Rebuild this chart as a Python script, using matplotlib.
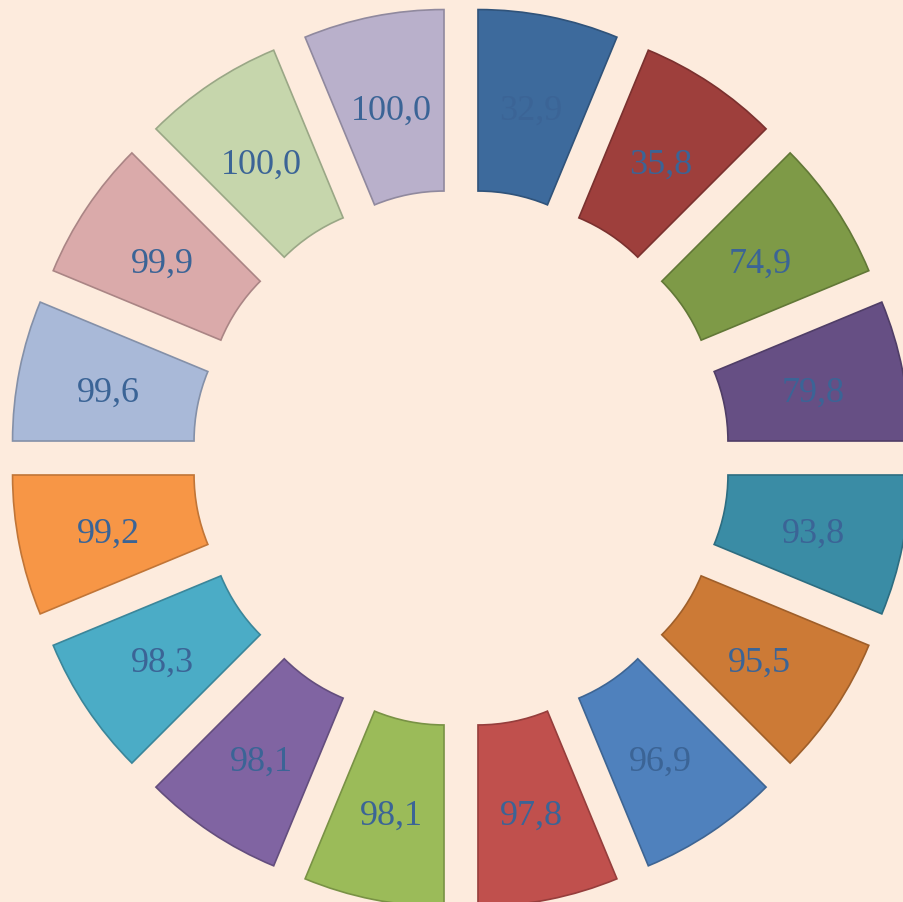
import matplotlib.pyplot as plt
import matplotlib.colors as mcolors
import numpy as np

values = [32.9, 35.8, 74.9, 79.8, 93.8, 95.5, 96.9, 97.8,
          98.1, 98.1, 98.3, 99.2, 99.6, 99.9, 100.0, 100.0]
labels = ['32,9', '35,8', '74,9', '79,8', '93,8', '95,5', '96,9', '97,8',
          '98,1', '98,1', '98,3', '99,2', '99,6', '99,9', '100,0', '100,0']
colors = ['#3D6A9C', '#9E3F3C', '#7E9A47', '#664F84', '#3A8CA5', '#CC7A36',
          '#4F81BD', '#C0504D', '#9BBB59', '#8064A2', '#4BACC6', '#F79646',
          '#A9B9D8', '#DAAAAA', '#C6D6AC', '#B9B0CB']

bg = '#FDEBDD'
edges = [tuple(c * 0.78 for c in mcolors.to_rgb(col)) for col in colors]

fig = plt.figure(figsize=(9.04, 9.02), dpi=100, facecolor=bg)
ax = fig.add_axes([0, 0, 1, 1])
ax.set_facecolor(bg)

n = len(values)
explode = [0.24] * n
wedges, _ = ax.pie([1] * n, startangle=90, counterclock=False, colors=colors,
                   explode=explode, radius=1.0,
                   wedgeprops=dict(width=0.5, linewidth=1.2))
for w, ec in zip(wedges, edges):
    w.set_edgecolor(ec)

step = 360 / n
for i, lab in enumerate(labels):
    ang = np.deg2rad(90 - step * (i + 0.5))
    cx, cy = 0.24 * np.cos(ang), 0.24 * np.sin(ang)
    r = 0.75
    ax.text(cx + r * np.cos(ang), cy + r * np.sin(ang) - 0.016, lab,
            ha='center', va='center', fontsize=26, color='#3B6496',
            family=['Liberation Serif', 'DejaVu Serif'])

ax.set_aspect('equal')
ax.set_xlim(-461 / 363, (904 - 461) / 363)
ax.set_ylim(-444 / 363, 458 / 363)
ax.axis('off')

fig.savefig('out.png', dpi=100, facecolor=bg)
